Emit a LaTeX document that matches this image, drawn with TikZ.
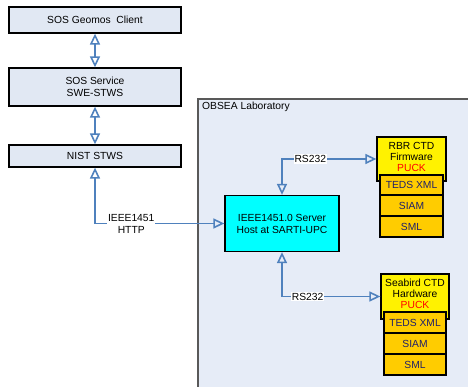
\documentclass[tikz,border=0pt]{standalone}
\usepackage{fontspec}
\setmainfont{Liberation Sans}
\usetikzlibrary{arrows.meta}

\begin{document}
\begin{tikzpicture}[x=1pt,y=-1pt,
  >={Triangle[open,length=11pt,width=10pt]},
  every node/.style={font=\fontsize{10.3}{12}\selectfont,align=center,inner sep=0pt},
  link/.style={<->,color=linkblue,line width=1.6pt},
  box/.style={draw=black,line width=1.3pt},
  webbox/.style={box,fill=webfill,minimum width=172pt},
  probe/.style={box,fill=yellow,minimum width=69pt,minimum height=44pt,
    font=\fontsize{10.3}{11}\selectfont,text depth=5pt},
  layer/.style={box,fill=layerorange,text=layertext,minimum width=63pt,minimum height=21pt},
  lbl/.style={fill=white,inner sep=1pt}]

\definecolor{linkblue}{HTML}{4F81BD}
\definecolor{webfill}{HTML}{E1E8F3}
\definecolor{labfill}{HTML}{E6ECF7}
\definecolor{servercyan}{HTML}{00FFFF}
\definecolor{layerorange}{HTML}{FFCC00}
\definecolor{layertext}{HTML}{1F1F6A}

\useasboundingbox (0,0) rectangle (468,387);

% laboratory area
\begin{scope}
\clip (0,0) rectangle (468,387);
\draw[fill=labfill,draw=black!65,line width=1.2pt] (198,99) rectangle (480,400);
\end{scope}
\node[anchor=west] (lab) at (202,107) {OBSEA Laboratory};

% web side
\node[webbox,minimum height=26pt] (client) at (95,20) {SOS Geomos~ Client};
\node[webbox,minimum height=38pt] (sos) at (95,87) {SOS Service\\SWE-STWS};
\node[webbox,minimum height=22pt] (nist) at (95,156) {NIST STWS};

% server
\node[box,fill=servercyan,minimum width=114pt,minimum height=56pt] (server) at (282,223.5) {IEEE1451.0 Server\\Host at SARTI-UPC};

% RBR instrument
\node[probe] (rbr) at (411.5,159) {RBR CTD\\Firmware\\\textcolor{red}{PUCK}};
\node[layer,minimum height=20pt] (rbrteds) at (411.5,185) {TEDS XML};
\node[layer] (rbrsiam) at (411.5,205.5) {SIAM};
\node[layer] (rbrsml) at (411.5,226.5) {SML};

% Seabird instrument
\node[probe,minimum width=68pt,minimum height=45pt] (seabird) at (415,296.5) {Seabird CTD\\Hardware\\\textcolor{red}{PUCK}};
\node[layer,minimum width=62pt] (sbteds) at (415,322.5) {TEDS XML};
\node[layer,minimum width=62pt] (sbsiam) at (415,343.5) {SIAM};
\node[layer,minimum width=62pt] (sbsml) at (415,364.5) {SML};

% links
\draw[link] (client) -- (sos);
\draw[link] (sos) -- (nist);
\draw[link] (nist.south) |- (server.west) node[lbl,pos=0.64,text=black] (http) {IEEE1451\\HTTP};
\draw[link] (server.north) |- (rbr.west) node[lbl,pos=0.65,text=black] (rsrbr) {RS232};
\draw[link] (server.south) |- (seabird.west) node[lbl,pos=0.63,text=black] (rssb) {RS232};

\end{tikzpicture}
\end{document}
